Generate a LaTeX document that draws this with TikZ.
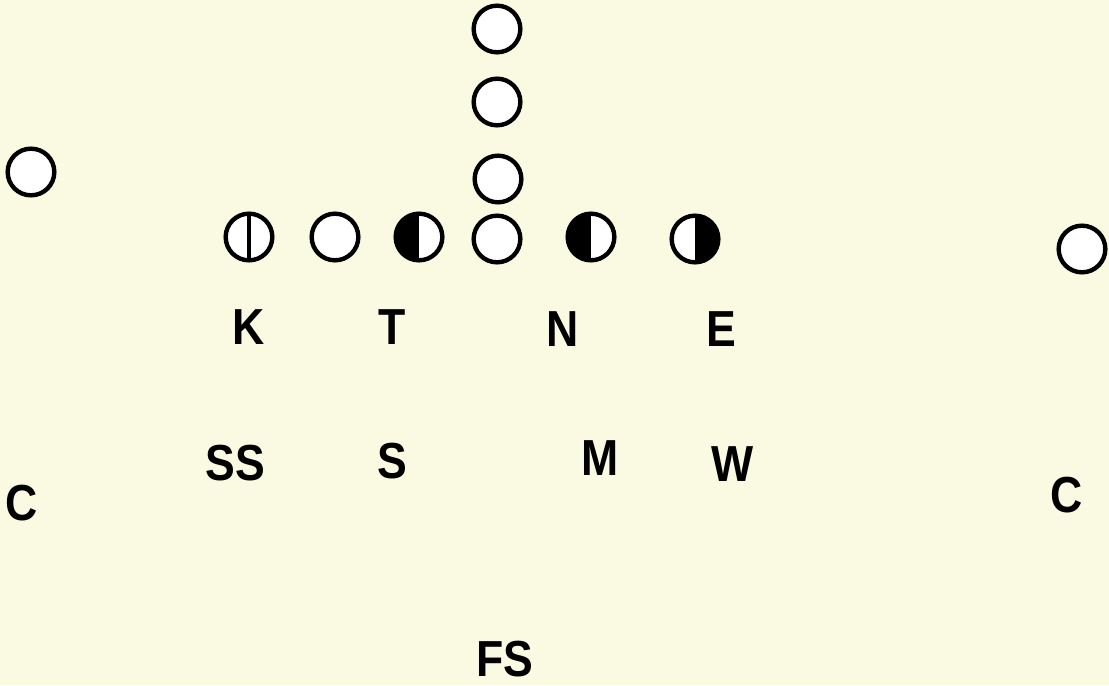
\documentclass[tikz,border=0pt]{standalone}
\usepackage{fontspec}
\setmainfont{Liberation Sans}
\newfontfamily\lblfont[FakeStretch=0.88]{Liberation Sans}
\usepackage{xcolor}
\usepackage{tikz}
\usetikzlibrary{positioning}
\definecolor{FieldCream}{HTML}{FAFAE2}
\tikzset{
  % Base player
  PL/.style={circle,draw=black,line width=3.3pt,fill=white,
             inner sep=0pt,minimum size=35pt},
  % Variants
  pO/.style={PL},
  pLeft/.style={PL,path picture={\fill[black] (path picture bounding box.south west) rectangle (path picture bounding box.north);}},
  pRight/.style={PL,path picture={\fill[black] (path picture bounding box.south) rectangle (path picture bounding box.north east);}},
  pSplit/.style={PL,path picture={\draw[line width=3pt] (path picture bounding box.south) -- (path picture bounding box.north);}},
  % Label style
  LB/.style={font=\lblfont\bfseries\fontsize{38}{44}\selectfont,inner sep=0pt,text depth=0pt}
}
\begin{document}
\begin{tikzpicture}[x=0.75pt,y=-0.75pt]
  \fill[FieldCream] (0,0) rectangle (1109,685);
  \useasboundingbox (0,0) rectangle (1109,685);

  % backfield stack
  \node[pO] (b1) at (497,29)  {};
  \node[pO] (b2) at (497,102) {};
  \node[pO] (b3) at (498,179) {};

  % wide outs
  \node[pO] (wl) at (31,172)   {};
  \node[pO] (wr) at (1082,249) {};

  % line
  \node[pSplit] (l1) at (249,237) {};
  \node[pO]     (l2) at (335,237) {};
  \node[pLeft]  (l3) at (419,237) {};
  \node[pO]     (l4) at (497,239) {};
  \node[pLeft]  (l5) at (591,237) {};
  \node[pRight] (l6) at (695,239) {};

  % defense
  \node[LB] (K)  at (249,327) {K};
  \node[LB] (T)  at (392,327) {T};
  \node[LB] (N)  at (563,329) {N};
  \node[LB] (E)  at (721,329) {E};
  \node[LB] (SS) at (235,463) {SS};
  \node[LB] (S)  at (392,461) {S};
  \node[LB] (M)  at (600,458) {M};
  \node[LB] (W)  at (733,464) {W};
  \node[LB] (CL) at (22,503)  {C};
  \node[LB] (CR) at (1067,495){C};
  \node[LB] (FS) at (505,659) {FS};
\end{tikzpicture}
\end{document}
